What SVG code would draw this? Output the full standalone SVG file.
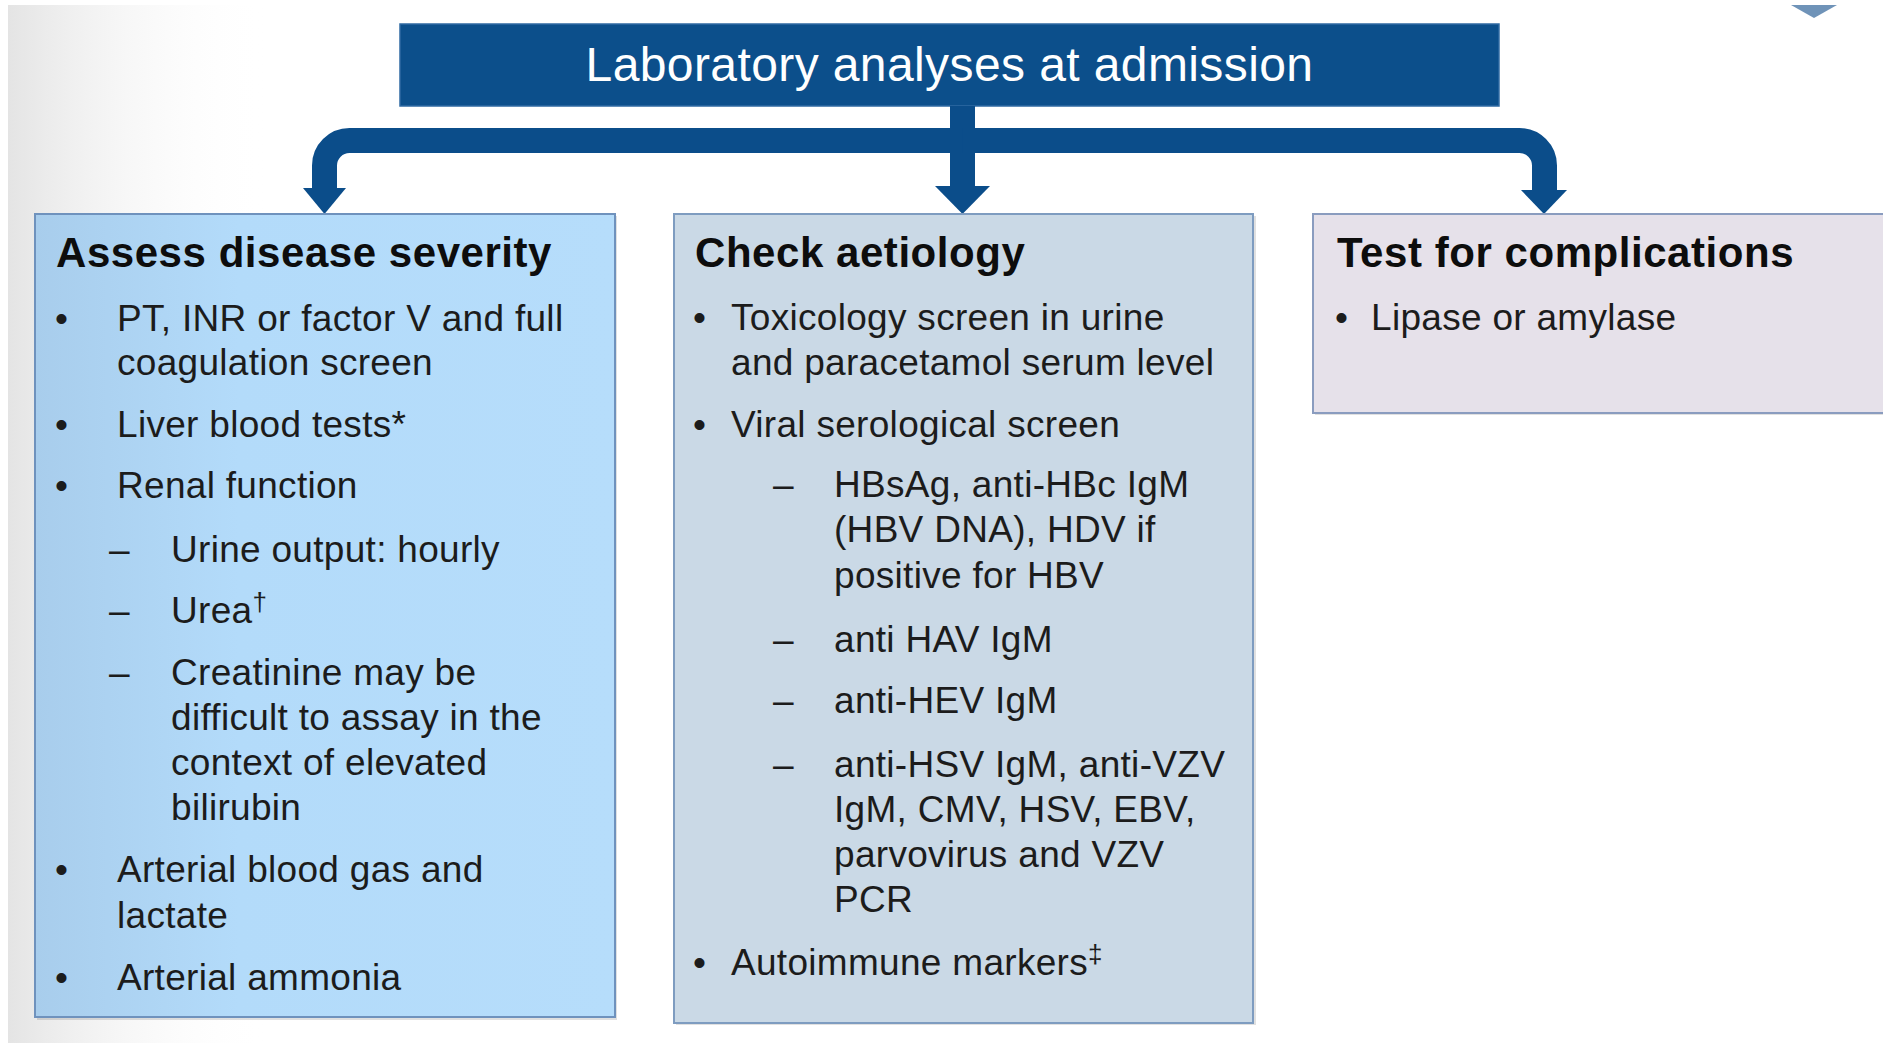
<svg xmlns="http://www.w3.org/2000/svg" width="1883" height="1043" viewBox="0 0 1883 1043">
  <defs>
    <linearGradient id="bgShade" x1="0" y1="0" x2="1" y2="0">
      <stop offset="0" stop-color="#e4e4e4"/>
      <stop offset="1" stop-color="#ffffff" stop-opacity="0"/>
    </linearGradient>
    <linearGradient id="severityFill" x1="0" y1="0" x2="1" y2="0">
      <stop offset="0" stop-color="#a8cdec"/>
      <stop offset="0.35" stop-color="#b3dbfa"/>
      <stop offset="1" stop-color="#b6ddfb"/>
    </linearGradient>
    <style>
      .hdr { font-family: "Liberation Sans", Arial, sans-serif; font-weight: bold; font-size: 42px; letter-spacing: 0.55px; fill: #0d0d0d; }
      .txt { font-family: "Liberation Sans", Arial, sans-serif; font-size: 37px; letter-spacing: 0.3px; fill: #1c1c1c; }
      .title { font-family: "Liberation Sans", Arial, sans-serif; font-size: 48px; letter-spacing: 0.4px; fill: #ffffff; }
      .box { stroke-width: 2; }
      .shadow { fill: #000; opacity: 0.12; }
      .conn { fill: none; stroke: #0b4d8a; stroke-width: 25; stroke-linecap: butt; stroke-linejoin: round; }
      .head { fill: #0b4d8a; }
      .sup { font-size: 26px; }
    </style>
  </defs>

  <!-- page background -->
  <rect x="0" y="0" width="1883" height="1043" fill="#ffffff"/>
  <rect x="8" y="5" width="260" height="1038" fill="url(#bgShade)"/>
  <polygon points="1791,5 1837,5 1814,18" fill="#6f93b8"/>

  <!-- title -->
  <g id="title">
    <rect x="400" y="24" width="1099" height="82" fill="#0c4f8b" stroke="#2f6aa3" stroke-width="1.5"/>
    <text class="title" x="949.5" y="81" text-anchor="middle">Laboratory analyses at admission</text>
  </g>

  <!-- connectors -->
  <g id="connectors">
    <path class="conn" d="M962.5,106 V188"/>
    <path class="conn" d="M962.5,140.5 H349.5 A25,25 0 0 0 324.5,165.5 V190"/>
    <path class="conn" d="M962.5,140.5 H1519.5 A25,25 0 0 1 1544.5,165.5 V192"/>
    <polygon class="head" points="303,188 346,188 324.5,214"/>
    <polygon class="head" points="935,186 990,186 962.5,214"/>
    <polygon class="head" points="1521,190 1567,190 1544,214"/>
  </g>

  <!-- left column -->
  <g id="severity">
    <rect class="shadow" x="37" y="216" width="580" height="804"/>
    <rect class="box" x="35" y="214" width="580" height="803" fill="url(#severityFill)" stroke="#6f92bd"/>
    <text class="hdr" x="56" y="267">Assess disease severity</text>
    <text class="txt" x="55" y="331">•</text>
    <text class="txt" x="117" y="331">PT, INR or factor V and full</text>
    <text class="txt" x="117" y="375">coagulation screen</text>
    <text class="txt" x="55" y="437">•</text>
    <text class="txt" x="117" y="437">Liver blood tests*</text>
    <text class="txt" x="55" y="498">•</text>
    <text class="txt" x="117" y="498">Renal function</text>
    <text class="txt" x="109" y="562">–</text>
    <text class="txt" x="171" y="562">Urine output: hourly</text>
    <text class="txt" x="109" y="623">–</text>
    <text class="txt" x="171" y="623">Urea<tspan class="sup" dy="-12">†</tspan></text>
    <text class="txt" x="109" y="685">–</text>
    <text class="txt" x="171" y="685">Creatinine may be</text>
    <text class="txt" x="171" y="730">difficult to assay in the</text>
    <text class="txt" x="171" y="775">context of elevated</text>
    <text class="txt" x="171" y="820">bilirubin</text>
    <text class="txt" x="55" y="882">•</text>
    <text class="txt" x="117" y="882">Arterial blood gas and</text>
    <text class="txt" x="117" y="928">lactate</text>
    <text class="txt" x="55" y="990">•</text>
    <text class="txt" x="117" y="990">Arterial ammonia</text>
  </g>

  <!-- middle column -->
  <g id="aetiology">
    <rect class="shadow" x="676" y="216" width="580" height="809"/>
    <rect class="box" x="674" y="214" width="579" height="809" fill="#cad9e6" stroke="#7e9cc0"/>
    <text class="hdr" x="695" y="267">Check aetiology</text>
    <text class="txt" x="693" y="330">•</text>
    <text class="txt" x="731" y="330">Toxicology screen in urine</text>
    <text class="txt" x="731" y="375">and paracetamol serum level</text>
    <text class="txt" x="693" y="437">•</text>
    <text class="txt" x="731" y="437">Viral serological screen</text>
    <text class="txt" x="773" y="497">–</text>
    <text class="txt" x="834" y="497">HBsAg, anti-HBc IgM</text>
    <text class="txt" x="834" y="542">(HBV DNA), HDV if</text>
    <text class="txt" x="834" y="588">positive for HBV</text>
    <text class="txt" x="773" y="652">–</text>
    <text class="txt" x="834" y="652">anti HAV IgM</text>
    <text class="txt" x="773" y="713">–</text>
    <text class="txt" x="834" y="713">anti-HEV IgM</text>
    <text class="txt" x="773" y="777">–</text>
    <text class="txt" x="834" y="777">anti-HSV IgM, anti-VZV</text>
    <text class="txt" x="834" y="822">IgM, CMV, HSV, EBV,</text>
    <text class="txt" x="834" y="867">parvovirus and VZV</text>
    <text class="txt" x="834" y="912">PCR</text>
    <text class="txt" x="693" y="975">•</text>
    <text class="txt" x="731" y="975">Autoimmune markers<tspan class="sup" dy="-12">‡</tspan></text>
  </g>

  <!-- right column -->
  <g id="complications">
    <rect class="shadow" x="1315" y="216" width="580" height="199"/>
    <rect class="box" x="1313" y="214" width="580" height="199" fill="#e6e1ea" stroke="#8a9cbf"/>
    <text class="hdr" x="1337" y="267">Test for complications</text>
    <text class="txt" x="1335" y="330">•</text>
    <text class="txt" x="1371" y="330">Lipase or amylase</text>
  </g>
</svg>
